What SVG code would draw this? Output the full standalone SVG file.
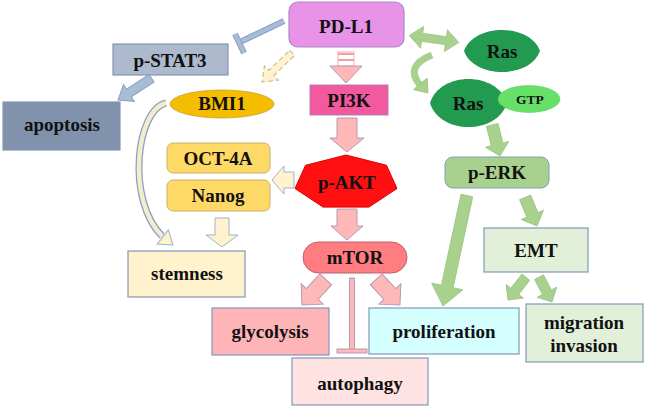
<svg xmlns="http://www.w3.org/2000/svg" width="653" height="408" viewBox="0 0 653 408">
<style>
.t{font-family:'Liberation Serif','Times New Roman','DejaVu Serif',serif;font-weight:bold;font-size:19px;fill:#111;text-anchor:middle}
.box{stroke:#8397b8;stroke-width:1.2}
.pk{fill:#ffb8b8;stroke:#b49ab8;stroke-width:1}
.gr{fill:#a9d18e;stroke:#9cc482;stroke-width:0.8}
.yl{fill:#fff2cc;stroke:#9fb2cf;stroke-width:1}
.bl{fill:#a8bcd8;stroke:#8aa0c2;stroke-width:1}
</style>
<rect width="653" height="408" fill="#fff"/>
<g id="connectors">
  <g>
    <line x1="284" y1="21" x2="240" y2="42" stroke="#8aa0c2" stroke-width="6"/>
    <line x1="284" y1="21" x2="240" y2="42" stroke="#a8bcd8" stroke-width="4"/>
    <line x1="235" y1="34" x2="244" y2="53" stroke="#8aa0c2" stroke-width="6"/>
    <line x1="235" y1="34" x2="244" y2="53" stroke="#a8bcd8" stroke-width="4"/>
  </g>
  <polygon class="bl" points="-4.5,-40 4.5,-40 4.5,-13 10,-13 0,0 -10,-13 -4.5,-13" transform="translate(118,100) rotate(57.1)"/>
  <polygon fill="#fff2cc" stroke="#c8c09a" stroke-width="1.2" stroke-dasharray="5,3" points="-3.5,-42 3.5,-42 3.5,-13 10,-13 0,0 -10,-13 -3.5,-13" transform="translate(262,82) rotate(46)"/>
  <g>
    <rect x="338" y="52" width="16" height="14" fill="#fff" stroke="#f0b0b0" stroke-width="1"/>
    <line x1="338" y1="54" x2="354" y2="54" stroke="#f4a0a0" stroke-width="2"/>
    <line x1="338" y1="60" x2="354" y2="60" stroke="#f4a0a0" stroke-width="2"/>
    <polygon class="pk" points="330,66 362,66 346,83"/>
  </g>
  <polygon class="pk" points="-10,-34 10,-34 10,-14 17,-14 0,0 -17,-14 -10,-14" transform="translate(347,152)"/>
  <polygon class="yl" points="-8,-22 8,-22 8,-12 14,-12 0,0 -14,-12 -8,-12" transform="translate(272,180) rotate(90)"/>
  <polygon class="yl" points="-7,-29 7,-29 7,-12 16,-12 0,0 -16,-12 -7,-12" transform="translate(222,247)"/>
  <path d="M166 103 C136 110 126 200 162 236" fill="none" stroke="#8aa0c2" stroke-width="7"/>
  <path d="M166 103 C136 110 126 200 162 236" fill="none" stroke="#f4eccd" stroke-width="4.5"/>
  <polygon class="yl" points="0,0 -9,-13 9,-13" transform="translate(173,245) rotate(-52)"/>
  <polygon class="pk" points="-10,-31 10,-31 10,-14 16,-14 0,0 -16,-14 -10,-14" transform="translate(347,240)"/>
  <polygon class="pk" points="-8,-35 8,-35 8,-15 15,-15 0,0 -15,-15 -8,-15" transform="translate(302,305) rotate(42.7)"/>
  <polygon class="pk" points="-8,-35 8,-35 8,-15 15,-15 0,0 -15,-15 -8,-15" transform="translate(400,305) rotate(-42.7)"/>
  <rect x="349.5" y="278" width="5" height="72" fill="#ffb8b8" stroke="#b49ab8" stroke-width="1"/>
  <rect x="337" y="349" width="30" height="4" fill="#ffb8b8" stroke="#b49ab8" stroke-width="1"/>
  <polygon class="gr" points="-25,0 -12,-11 -12,-4 12,-4 12,-11 25,0 12,11 12,4 -12,4 -12,11" transform="translate(434,39) rotate(8)"/>
  <path d="M432 55 Q404 66 420 85" fill="none" stroke="#a9d18e" stroke-width="7"/>
  <polygon class="gr" points="0,0 -9,-12 9,-12" transform="translate(428,93) rotate(-40)"/>
  <polygon class="gr" points="-6,-32 6,-32 6,-12 12,-12 0,0 -12,-12 -6,-12" transform="translate(500,156) rotate(-14)"/>
  <polygon class="gr" points="-6,-113 6,-113 6,-20 16,-20 0,0 -16,-20 -6,-20" transform="translate(443,306) rotate(12.2)"/>
  <polygon class="gr" points="-6,-31 6,-31 6,-12 12,-12 0,0 -12,-12 -6,-12" transform="translate(537,226) rotate(-22.5)"/>
  <polygon class="gr" points="-5,-29 5,-29 5,-11 11,-11 0,0 -11,-11 -5,-11" transform="translate(508,300) rotate(38)"/>
  <polygon class="gr" points="-5,-28 5,-28 5,-11 11,-11 0,0 -11,-11 -5,-11" transform="translate(552,302) rotate(-27.5)"/>
</g>
<g id="pdl1">
  <rect x="289" y="2" width="115" height="45" rx="9" fill="#e892e8" stroke="#a88ac8" stroke-width="1.2"/>
  <text class="t" x="346" y="33">PD-L1</text>
</g>
<g id="pstat3">
  <rect class="box" x="113" y="44" width="115" height="31" fill="#adb9cc"/>
  <text class="t" x="170" y="67">p-STAT3</text>
</g>
<g id="apoptosis">
  <rect class="box" x="3" y="102" width="117" height="48" fill="#8192ad"/>
  <text class="t" x="62" y="131">apoptosis</text>
</g>
<g id="bmi1">
  <ellipse cx="222" cy="104" rx="52" ry="14" fill="#f5bd00" stroke="#c8a040" stroke-width="0.8"/>
  <text class="t" x="222" y="110">BMI1</text>
</g>
<g id="pi3k">
  <rect x="310" y="85" width="78" height="30" fill="#f2599f" stroke="#a880b0" stroke-width="1"/>
  <text class="t" x="349" y="107">PI3K</text>
</g>
<g id="ras1">
  <path d="M464 51 C474 23 530 23 540 51 C530 79 474 79 464 51 Z" fill="#229a50"/>
  <text class="t" x="502" y="58">Ras</text>
</g>
<g id="ras2">
  <path d="M430 103 C440 71 497 71 507 103 C497 135 440 135 430 103 Z" fill="#229a50"/>
  <text class="t" x="468" y="110">Ras</text>
</g>
<g id="gtp">
  <ellipse cx="529" cy="99" rx="31" ry="13.5" fill="#66e066" stroke="#5ac85a" stroke-width="0.5"/>
  <text class="t" x="530" y="104" style="font-size:13.5px">GTP</text>
</g>
<g id="oct4a">
  <rect x="167" y="143" width="103" height="30" rx="6" fill="#ffd966" stroke="#c8b070" stroke-width="1"/>
  <text class="t" x="218" y="165">OCT-4A</text>
</g>
<g id="nanog">
  <rect x="167" y="180" width="103" height="31" rx="6" fill="#ffd966" stroke="#c8b070" stroke-width="1"/>
  <text class="t" x="218" y="202">Nanog</text>
</g>
<g id="pakt">
  <polygon points="346,155 386.5,165.3 397,188.5 369,207.1 323,207.1 295,188.5 305.5,165.3" fill="#ff0f0f" stroke="#e00000" stroke-width="1"/>
  <text class="t" x="347" y="189">p-AKT</text>
</g>
<g id="perk">
  <rect x="445" y="157" width="104" height="31" rx="8" fill="#a9d18e" stroke="#7f9fb8" stroke-width="1"/>
  <text class="t" x="497" y="179">p-ERK</text>
</g>
<g id="emt">
  <rect class="box" x="484" y="228" width="104" height="44" fill="#e2f0d9"/>
  <text class="t" x="536" y="257">EMT</text>
</g>
<g id="mtor">
  <rect x="303" y="242" width="104" height="31" rx="15.5" fill="#ff7c80" stroke="#c06070" stroke-width="1"/>
  <text class="t" x="355" y="264">mTOR</text>
</g>
<g id="stemness">
  <rect class="box" x="128" y="251" width="117" height="46" fill="#fff2cc"/>
  <text class="t" x="187" y="280">stemness</text>
</g>
<g id="glycolysis">
  <rect class="box" x="212" y="308" width="117" height="47" fill="#ffb5b8"/>
  <text class="t" x="270" y="338">glycolysis</text>
</g>
<g id="proliferation">
  <rect class="box" x="369" y="308" width="150" height="46" fill="#d5ffff"/>
  <text class="t" x="444" y="338">proliferation</text>
</g>
<g id="migration">
  <rect class="box" x="526" y="304" width="117" height="58" fill="#e2f0d9"/>
  <text class="t" x="584" y="329">migration</text>
  <text class="t" x="584" y="352">invasion</text>
</g>
<g id="autophagy">
  <rect class="box" x="292" y="358" width="136" height="47" fill="#ffe3e3"/>
  <text class="t" x="360" y="390">autophagy</text>
</g>
</svg>
